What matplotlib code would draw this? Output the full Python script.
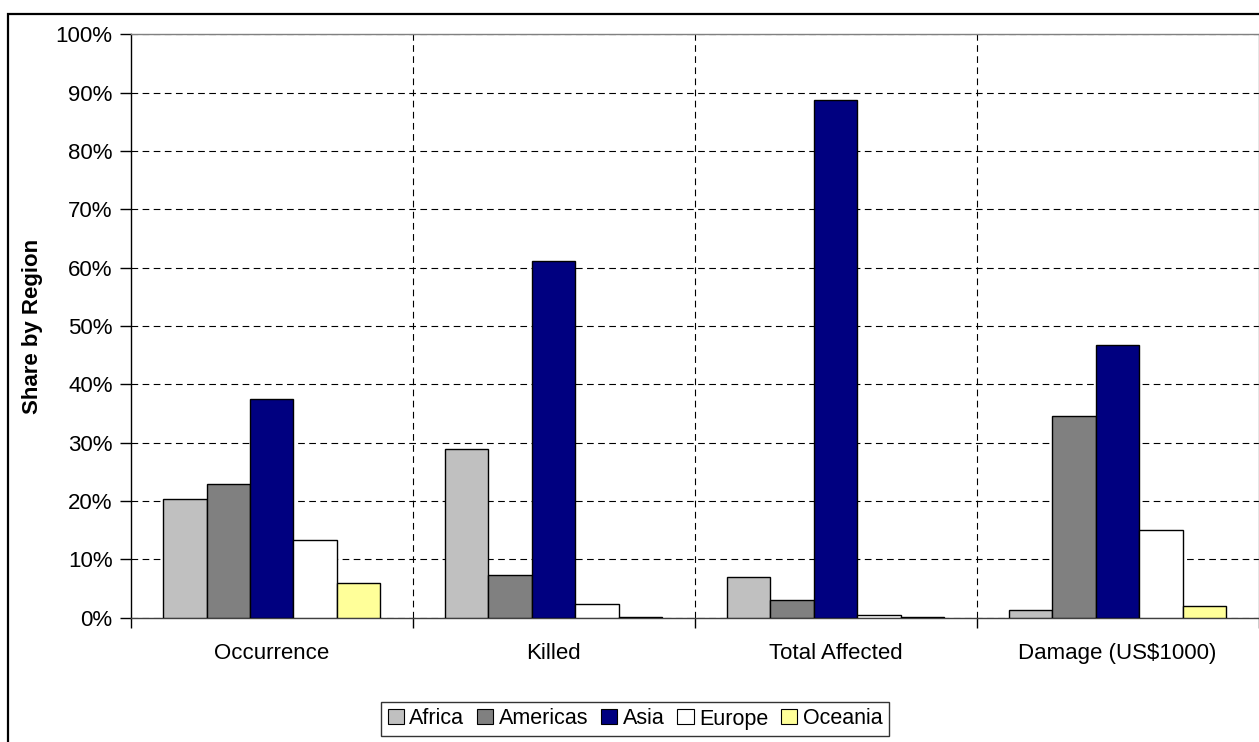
import matplotlib
matplotlib.use("Agg")
import matplotlib.pyplot as plt
from matplotlib.patches import Patch, Rectangle
from matplotlib.ticker import FixedLocator, PercentFormatter
import numpy as np

plt.rcParams['font.family'] = ['Liberation Sans', 'DejaVu Sans']

# Disaster impact shares by region
categories = ["Occurrence", "Killed", "Total Affected", "Damage (US$1000)"]
regions = ["Africa", "Americas", "Asia", "Europe", "Oceania"]
africa = [20.3, 29.0, 7.0, 1.3]
americas = [22.9, 7.3, 3.1, 34.5]
asia = [37.5, 61.2, 88.8, 46.7]
europe = [13.4, 2.3, 0.5, 15.1]
oceania = [6.0, 0.2, 0.2, 2.0]
y_ticks = list(range(0, 101, 10))

series = [africa, americas, asia, europe, oceania]
colors = ["#C0C0C0", "#808080", "#000080", "#FFFFFF", "#FFFF99"]

W, H = 1259, 742
fig = plt.figure(figsize=(W / 100, H / 100), dpi=100)
fig.patch.set_facecolor("white")

# outer chart frame
fig.add_artist(Rectangle((8 / W, 0 - 0.01), 1.2, (742 - 14) / H + 0.01,
                         transform=fig.transFigure, fill=False,
                         edgecolor="black", linewidth=1.6, zorder=0))

left, right, top, bottom = 130.7, 1258.5, 34.3, 617.7
ax = fig.add_axes([left / W, 1 - bottom / H, (right - left) / W, (bottom - top) / H])
ax.set_facecolor("white")

n = len(series)
bw = 0.154
x = np.arange(len(categories))
for i, (vals, col) in enumerate(zip(series, colors)):
    offs = (i - (n - 1) / 2) * bw
    ax.bar(x + offs, vals, width=bw, color=col, edgecolor="black",
           linewidth=1.0, zorder=3, label=regions[i])

ax.set_xlim(-0.5, len(categories) - 0.5)
ax.set_ylim(0, 100)

ax.yaxis.set_major_locator(FixedLocator(y_ticks))
ax.yaxis.set_major_formatter(PercentFormatter(decimals=0))
ax.grid(axis="y", which="major", color="black", linestyle=(0, (6, 4)), linewidth=0.8, zorder=1)

bounds = np.arange(len(categories) + 1) - 0.5
ax.xaxis.set_major_locator(FixedLocator(bounds))
ax.xaxis.set_major_formatter(plt.NullFormatter())
ax.set_xticks(x, minor=True)
ax.set_xticklabels(categories, minor=True, fontsize=16)
ax.tick_params(axis="x", which="minor", length=0, pad=18)
ax.tick_params(axis="x", which="major", length=7, direction="out", width=1, color="black")
ax.tick_params(axis="y", length=8, direction="out", width=1, labelsize=16, pad=5)
for b in bounds[1:-1]:
    ax.axvline(b, color="black", linestyle=(0, (6, 4)), linewidth=0.8, zorder=1)

ax.spines["left"].set_color("black")
ax.spines["bottom"].set_color("#404040")
ax.spines["top"].set_color("#808080")
ax.spines["right"].set_color("#808080")
for s in ax.spines.values():
    s.set_linewidth(1.0)

ax.set_ylabel("Share by Region", fontsize=16, fontweight="bold", labelpad=9)

handles = [Patch(facecolor=c, edgecolor="black", linewidth=0.8) for c in colors]
leg = fig.legend(handles, regions, loc="center", ncol=5,
                 bbox_to_anchor=(635 / W, 1 - 719 / H),
                 frameon=True, fancybox=False, edgecolor="black", fontsize=15.5,
                 handlelength=0.75, handleheight=0.75, handletextpad=0.25,
                 columnspacing=0.6, borderpad=0.3)
leg.get_frame().set_linewidth(1.0)
# align legend entries by their tops so descenders do not shift a label
if hasattr(leg, "_legend_handle_box"):
    leg._legend_handle_box.align = "top"
    for col in leg._legend_handle_box.get_children():
        col.align = "top"
        for item in col.get_children():
            item.align = "top"

fig.savefig("out.png", dpi=100, facecolor="white")
